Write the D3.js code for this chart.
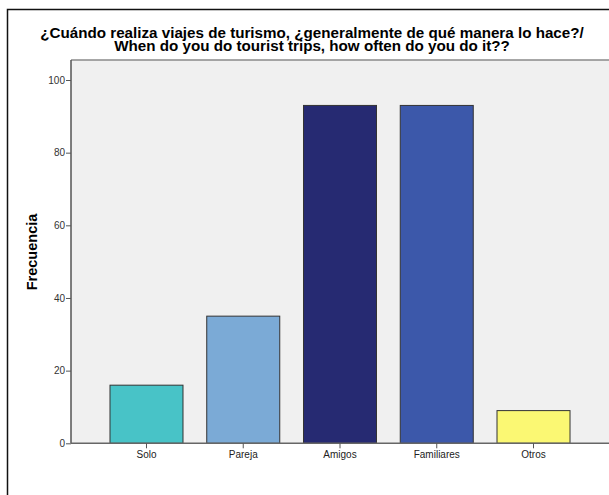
<!DOCTYPE html>
<html><head><meta charset="utf-8">
<script src="https://cdn.jsdelivr.net/npm/d3@7"></script>
<style>body{margin:0;background:#fff}svg{display:block}</style>
</head><body>
<svg id="c" width="609" height="495"></svg>
<script>
const categories = ["Solo","Pareja","Amigos","Familiares","Otros"];
const values = [16, 35, 93, 93, 9];
const colors = ["#48C3C7","#7BAAD6","#262A72","#3C58AA","#FBF873"];
const yTicks = [0,20,40,60,80,100];
const titleLines = ["¿Cuándo realiza viajes de turismo, ¿generalmente de qué manera lo hace?/","When do you do tourist trips, how often do you do it??"];
const yLabel = "Frecuencia";

const svg = d3.select("#c");
const L = 71, T = 60, B = 443.3, R = 609;
const x = d3.scaleBand().domain(categories).range([L, R]).paddingInner(0.2455).paddingOuter(0.403);
const y = d3.scaleLinear().domain([0, 100]).range([B, 80]);
const FONT = "Liberation Sans, Arial, sans-serif";

// frame
svg.append("path").attr("d","M7.5,495 V9.5 H620").attr("fill","none").attr("stroke","#111").attr("stroke-width",1.5);

// plot background
svg.append("rect").attr("x",L).attr("y",T).attr("width",R-L+5).attr("height",B-T).attr("fill","#F0F0F0");
svg.append("line").attr("x1",L).attr("x2",R+5).attr("y1",T).attr("y2",T).attr("stroke","#8a8a8a").attr("stroke-width",1.5);

// bars
svg.selectAll("rect.bar").data(categories).join("rect").attr("class","bar")
  .attr("x",d=>x(d)).attr("width",x.bandwidth())
  .attr("y",(d,i)=>y(values[i])).attr("height",(d,i)=>B-y(values[i]))
  .attr("fill",(d,i)=>colors[i]).attr("stroke","#333").attr("stroke-width",1);

// y axis
const ya = svg.append("g").attr("transform",`translate(${L},0)`)
  .call(d3.axisLeft(y).tickValues(yTicks).tickSize(5).tickPadding(1));
ya.select(".domain").attr("d",`M0,${T}V${B}`).attr("stroke","#555").attr("stroke-width",1.5);
ya.selectAll(".tick line").attr("stroke","#555");
ya.selectAll(".tick text").attr("fill","#333").style("font-family",FONT).style("font-size","10px");

// x axis
const xa = svg.append("g").attr("transform",`translate(0,${B})`)
  .call(d3.axisBottom(x).tickSize(5).tickPadding(3));
xa.select(".domain").attr("d",`M${L},0H${R+5}`).attr("stroke","#666").attr("stroke-width",1.5);
xa.selectAll(".tick line").attr("stroke","#555");
xa.selectAll(".tick text").attr("fill","#222").style("font-family",FONT).style("font-size","10px");

// y label
svg.append("text").attr("transform",`translate(36.5,252) rotate(-90)`).attr("text-anchor","middle")
  .style("font-family",FONT).style("font-size","14.5px").style("font-weight","bold")
  .text(yLabel);

// title
titleLines.forEach((t,i)=>{
  svg.append("text").attr("x",312).attr("y",38+i*13).attr("text-anchor","middle")
    .style("font-family",FONT).style("font-size","15.2px").style("font-weight","bold")
    .attr("fill","#000").text(t);
});
</script>
</body></html>
